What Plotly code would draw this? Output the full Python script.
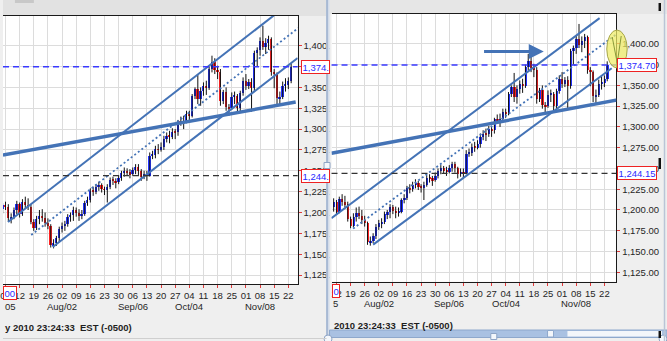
import pandas as pd
import plotly.graph_objects as go

# ---- daily gold bars, Jul 1 - Nov 23 2010 ----
dates = pd.bdate_range("2010-07-01", "2010-11-23")

opens = [1208, 1204, 1209, 1207, 1193, 1195, 1203, 1210, 1198, 1213,
         1209, 1207, 1189, 1181, 1192, 1196, 1193, 1188, 1184, 1161,
         1163, 1169, 1180, 1184, 1186, 1195, 1197, 1203, 1199, 1197,
         1198, 1212, 1215, 1226, 1225, 1230, 1233, 1228, 1227, 1230,
         1239, 1238, 1236, 1241, 1247, 1250, 1248, 1246, 1251, 1255,
         1250, 1243, 1246, 1244, 1268, 1269, 1276, 1275, 1279, 1288,
         1292, 1291, 1297, 1296, 1309, 1308, 1310, 1318, 1316, 1340,
         1348, 1336, 1346, 1352, 1349, 1372, 1380, 1371, 1369, 1334,
         1344, 1326, 1325, 1339, 1340, 1325, 1343, 1358, 1352, 1357,
         1349, 1391, 1395, 1406, 1399, 1403, 1408, 1369, 1366, 1337,
         1338, 1352, 1353, 1358]
highs = [1212, 1211, 1213, 1210, 1199, 1206, 1214, 1212, 1216, 1219,
         1217, 1210, 1192, 1196, 1203, 1204, 1200, 1193, 1186, 1168,
         1172, 1183, 1188, 1190, 1198, 1200, 1207, 1206, 1204, 1203,
         1214, 1219, 1229, 1231, 1234, 1237, 1235, 1231, 1234, 1242,
         1243, 1241, 1245, 1250, 1254, 1253, 1252, 1254, 1258, 1258,
         1252, 1250, 1250, 1272, 1274, 1280, 1282, 1284, 1292, 1296,
         1298, 1301, 1300, 1311, 1315, 1316, 1322, 1322, 1342, 1350,
         1365, 1350, 1356, 1358, 1375, 1388, 1385, 1376, 1372, 1347,
         1350, 1330, 1344, 1345, 1342, 1346, 1362, 1366, 1360, 1361,
         1394, 1398, 1410, 1424, 1409, 1412, 1410, 1372, 1368, 1345,
         1357, 1361, 1362, 1379]
lows = [1198, 1199, 1203, 1189, 1187, 1192, 1198, 1194, 1196, 1205,
        1203, 1186, 1178, 1179, 1186, 1189, 1183, 1180, 1158, 1157,
        1160, 1165, 1176, 1178, 1183, 1189, 1190, 1195, 1190, 1192,
        1196, 1208, 1212, 1220, 1222, 1226, 1224, 1221, 1212, 1228,
        1233, 1229, 1234, 1238, 1243, 1244, 1241, 1244, 1246, 1245,
        1238, 1240, 1238, 1243, 1264, 1265, 1270, 1273, 1275, 1284,
        1283, 1288, 1288, 1292, 1304, 1300, 1307, 1311, 1314, 1336,
        1330, 1328, 1340, 1341, 1347, 1368, 1366, 1360, 1328, 1330,
        1322, 1316, 1323, 1330, 1319, 1321, 1340, 1347, 1348, 1321,
        1346, 1375, 1388, 1395, 1390, 1395, 1364, 1349, 1330, 1329,
        1336, 1345, 1348, 1355]
closes = [1204, 1209, 1207, 1193, 1195, 1203, 1210, 1198, 1213, 1209,
          1207, 1189, 1181, 1192, 1196, 1193, 1188, 1184, 1161, 1163,
          1169, 1180, 1184, 1186, 1195, 1197, 1203, 1199, 1197, 1198,
          1212, 1215, 1226, 1225, 1230, 1233, 1228, 1227, 1230, 1239,
          1238, 1236, 1241, 1247, 1250, 1248, 1246, 1251, 1255, 1250,
          1243, 1246, 1244, 1268, 1269, 1276, 1275, 1279, 1288, 1292,
          1291, 1297, 1296, 1309, 1308, 1310, 1318, 1316, 1340, 1348,
          1336, 1346, 1352, 1349, 1372, 1380, 1371, 1369, 1334, 1344,
          1326, 1325, 1339, 1340, 1325, 1343, 1358, 1352, 1357, 1349,
          1391, 1395, 1406, 1399, 1403, 1408, 1369, 1366, 1337, 1338,
          1352, 1353, 1358, 1374.70]

last_price = 1374.70
ref_price = 1244.15
month_marks = {"2010-08-02": "Aug/02", "2010-09-06": "Sep/06",
               "2010-10-04": "Oct/04", "2010-11-08": "Nov/08"}
price_ticks = list(range(1125, 1401, 25))
stamp_left = "y 2010 23:24:33&nbsp;&nbsp;EST (-0500)"
stamp_right = "2010 23:24:33&nbsp;&nbsp;EST (-0500)"

# ---- drawn studies (trading-day index, price) ----
studies = {
    "left": {
        "support": ((1.1, 1269.0), (104.6, 1332.5)),
        "upper": ((2.9, 1188.6), (98.9, 1441.6)),
        "middle": ((11.1, 1173.0), (107.7, 1426.9)),
        "lower": ((18.7, 1158.6), (105.3, 1385.3)),
    },
    "right": {
        "support": ((5.2, 1268.3), (106.6, 1332.5)),
        "upper": ((5.2, 1190.1), (100.3, 1431.0)),
        "middle": ((12.9, 1177.5), (108.7, 1417.7)),
        "lower": ((20.0, 1158.2), (104.6, 1370.7)),
    },
}
arrow_tail = (58.8, 1390.7)
arrow_head = (80.5, 1390.7)

W, H = 667, 341
FONT = "Liberation Sans, Arial, sans-serif"
STUDY_BLUE = "#4473b6"
TXT = "#262626"


def px(x):
    return x / W


def py(y):
    return 1 - y / H


idx = list(range(len(dates)))
body_base = [min(o, c) for o, c in zip(opens, closes)]
body_h = [max(abs(c - o), 0.8) for o, c in zip(opens, closes)]
body_col = ["#2233ff" if c >= o else "#ff2222" for o, c in zip(opens, closes)]
wick_x, wick_y = [], []
for i, lo, hi in zip(idx, lows, highs):
    wick_x += [i, i, None]
    wick_y += [lo, hi, None]

mondays = [i for i, d in zip(idx, dates) if d.weekday() == 0]
day_text = [dates[i].strftime("%d") for i in mondays]
date_keys = [d.strftime("%Y-%m-%d") for d in dates]

fig = go.Figure()
for xa, ya in (("x", "y"), ("x2", "y2")):
    fig.add_trace(go.Scatter(x=wick_x, y=wick_y, mode="lines",
                             line=dict(color="#111111", width=1),
                             xaxis=xa, yaxis=ya, hoverinfo="skip", showlegend=False))
    fig.add_trace(go.Bar(x=idx, y=body_h, base=body_base, width=0.62,
                         marker=dict(color=body_col, line=dict(width=0)),
                         xaxis=xa, yaxis=ya, showlegend=False))

xcommon = dict(tickmode="array", tickvals=mondays, ticktext=day_text, tickangle=0,
               ticklabeloverflow="allow",
               showgrid=True, gridcolor="#dcdcdc", gridwidth=1, zeroline=False,
               showline=True, linecolor="#1a1a1a", linewidth=1, mirror=True,
               ticks="outside", ticklen=3, tickcolor="#e03a3a",
               tickfont=dict(family=FONT, size=9.5, color=TXT))
ycommon = dict(side="right", tickmode="array", tickvals=price_ticks,
               showgrid=True, gridcolor="#dcdcdc", gridwidth=1, zeroline=False,
               showline=True, linecolor="#1a1a1a", linewidth=1,
               ticks="outside", ticklen=3, tickcolor="#e03a3a",
               tickfont=dict(family=FONT, size=9.5, color=TXT))

fig.update_layout(
    width=W, height=H, margin=dict(l=0, r=0, t=0, b=0),
    paper_bgcolor="#efefef", plot_bgcolor="#ffffff", showlegend=False,
    bargap=0,
    xaxis=dict(xcommon, domain=[0, px(296)], range=[1.12, 105.3], anchor="y"),
    yaxis=dict(ycommon, domain=[py(284), py(16)], range=[1114.3, 1435.6], anchor="x",
               ticktext=[f"{v:,}." for v in price_ticks]),
    xaxis2=dict(xcommon, domain=[px(330), px(616)], range=[5.24, 106.2], anchor="y2"),
    yaxis2=dict(ycommon, domain=[py(281.7), py(14)], range=[1113.6, 1436.0], anchor="x2",
                ticktext=[f"{v:,.2f}" for v in price_ticks]),
)

shapes = []
# window chrome: top strips
shapes.append(dict(type="rect", xref="paper", yref="paper", x0=0, x1=px(325), y0=py(16), y1=1,
                   fillcolor="#e2e2e2", line_width=0, layer="below"))
shapes.append(dict(type="rect", xref="paper", yref="paper", x0=px(328), x1=1, y0=py(14), y1=1,
                   fillcolor="#e6e6e6", line_width=0, layer="below"))
shapes.append(dict(type="rect", xref="paper", yref="paper", x0=px(12), x1=px(31), y0=py(3), y1=1,
                   fillcolor="#c8c8c8", line_width=0, layer="below"))

for panel, xa, ya in (("left", "x", "y"), ("right", "x2", "y2")):
    s = studies[panel]
    shapes.append(dict(type="line", xref=xa, yref=ya, x0=s["support"][0][0], y0=s["support"][0][1],
                       x1=s["support"][1][0], y1=s["support"][1][1],
                       line=dict(color=STUDY_BLUE, width=3.5)))
    for key in ("upper", "lower"):
        shapes.append(dict(type="line", xref=xa, yref=ya, x0=s[key][0][0], y0=s[key][0][1],
                           x1=s[key][1][0], y1=s[key][1][1],
                           line=dict(color=STUDY_BLUE, width=2)))
    shapes.append(dict(type="line", xref=xa, yref=ya, x0=s["middle"][0][0], y0=s["middle"][0][1],
                       x1=s["middle"][1][0], y1=s["middle"][1][1],
                       line=dict(color=STUDY_BLUE, width=1.8, dash="2px,2.5px")))
    shapes.append(dict(type="line", xref=xa + " domain", yref=ya, x0=0, x1=1,
                       y0=last_price, y1=last_price,
                       line=dict(color="#3a3aff", width=1.5, dash="6px,4px")))
    shapes.append(dict(type="line", xref=xa + " domain", yref=ya, x0=0, x1=1,
                       y0=ref_price, y1=ref_price,
                       line=dict(color="#333333", width=1.2, dash="6px,4px")))

# highlight ellipse near the latest price
shapes.append(dict(type="circle", xref="paper", yref="paper", x0=px(606.5), x1=px(627),
                   y0=py(68), y1=py(30), fillcolor="rgba(238,236,100,0.72)",
                   line=dict(color="#a6a64a", width=1), layer="above"))
shapes.append(dict(type="line", xref="paper", yref="paper", x0=px(612), y0=py(37), x1=px(617), y1=py(63),
                   line=dict(color="#8a9a3a", width=1), layer="above"))
shapes.append(dict(type="line", xref="paper", yref="paper", x0=px(621), y0=py(36), x1=px(617), y1=py(63),
                   line=dict(color="#8a9a3a", width=1), layer="above"))

# pane separator and handles
shapes.append(dict(type="rect", xref="paper", yref="paper", x0=px(324.5), x1=px(328), y0=0, y1=1,
                   fillcolor="#d3dcea", line_width=0, layer="above"))
shapes.append(dict(type="line", xref="paper", yref="paper", x0=px(325.5), x1=px(325.5), y0=0, y1=1,
                   line=dict(color="#8fa5c6", width=1.2), layer="above"))
shapes.append(dict(type="rect", xref="paper", yref="paper", x0=px(322.5), x1=px(328.5), y0=py(168.5), y1=py(162.5),
                   fillcolor="#f4f7fb", line=dict(color="#8fa5c6", width=1), layer="above"))
# bottom scroll bar of the right pane
shapes.append(dict(type="rect", xref="paper", yref="paper", x0=px(328), x1=1, y0=py(337.5), y1=py(330),
                   fillcolor="#a9c1e2", line=dict(color="#8ea8cc", width=1), layer="above"))
shapes.append(dict(type="rect", xref="paper", yref="paper", x0=px(567), x1=px(662), y0=py(336.5), y1=py(331),
                   fillcolor="#f3f6fa", line_width=0, layer="above"))
shapes.append(dict(type="rect", xref="paper", yref="paper", x0=px(547), x1=px(553), y0=py(337), y1=py(330.5),
                   fillcolor="#f3f6fa", line=dict(color="#8ea8cc", width=1), layer="above"))
shapes.append(dict(type="rect", xref="paper", yref="paper", x0=px(490), x1=px(496), y0=py(339.5), y1=py(333.5),
                   fillcolor="#f4f7fb", line=dict(color="#8fa5c6", width=1), layer="above"))
for cx in (326.5, 663):
    shapes.append(dict(type="circle", xref="paper", yref="paper", x0=px(cx - 4), x1=px(cx + 4),
                       y0=py(343), y1=py(335), fillcolor="#f4f7fb",
                       line=dict(color="#8fa5c6", width=1), layer="above"))
shapes.append(dict(type="line", xref="paper", yref="paper", x0=px(664.5), x1=px(664.5), y0=0, y1=1,
                   line=dict(color="#b9c5d6", width=1.5), layer="above"))
for y0, y1 in ((3, 11), (158, 169), (331, 338)):
    shapes.append(dict(type="rect", xref="paper", yref="paper", x0=px(658.5), x1=px(661), y0=py(y1), y1=py(y0),
                       fillcolor="#111111", line_width=0, layer="above"))
shapes.append(dict(type="line", xref="paper", yref="paper", x0=0, x1=px(325), y0=py(338.5), y1=py(338.5),
                   line=dict(color="#cfcfcf", width=1), layer="above"))
fig.update_layout(shapes=shapes)

ann = []


def price_box(text, xpix, yref, value):
    return dict(text=text, xref="paper", yref=yref, x=px(xpix), y=value, xanchor="left",
                yanchor="middle", showarrow=False, bgcolor="#ffffff", bordercolor="#ee2222",
                borderwidth=1, borderpad=0.5, font=dict(family=FONT, size=9.5, color="#2a2aff"))


ann.append(price_box(f"{int(last_price):,}.", 299.5, "y", last_price))
ann.append(price_box(f"{int(ref_price):,}.", 299.5, "y", ref_price))
ann.append(price_box(f"{last_price:,.2f}", 617, "y2", last_price))
ann.append(price_box(f"{ref_price:,.2f}", 617, "y2", ref_price))

# month row under the weekly day numbers
for xa, ypix in (("x", 306), ("x2", 303.5)):
    for key, label in month_marks.items():
        ann.append(dict(text=label, xref=xa, yref="paper", x=date_keys.index(key), y=py(ypix),
                        xanchor="center", yanchor="middle", showarrow=False,
                        font=dict(family=FONT, size=9.5, color=TXT)))

for xpix, ypix, txt in ((0, 293, "00"), (330, 290.5, "0")):
    ann.append(dict(text=txt, xref="paper", yref="paper", x=px(xpix), y=py(ypix), xanchor="left",
                    yanchor="middle", showarrow=False, bgcolor="#ffffff", bordercolor="#ee2222",
                    borderwidth=1, borderpad=0.5, font=dict(family=FONT, size=9.5, color="#2a2aff")))
for xpix, ypix, txt in ((0, 306, "05"), (329.5, 303.5, "5")):
    ann.append(dict(text=txt, xref="paper", yref="paper", x=px(xpix), y=py(ypix), xanchor="left",
                    yanchor="middle", showarrow=False,
                    font=dict(family=FONT, size=9.5, color=TXT)))
for xpix, ypix, txt in ((0.5, 327, stamp_left), (330, 325, stamp_right)):
    ann.append(dict(text="<b>" + txt + "</b>", xref="paper", yref="paper", x=px(xpix), y=py(ypix),
                    xanchor="left", yanchor="middle", showarrow=False,
                    font=dict(family=FONT, size=9.5, color="#1e1e1e")))

ann.append(dict(text="", xref="x2", yref="y2", axref="x2", ayref="y2",
                x=arrow_head[0], y=arrow_head[1], ax=arrow_tail[0], ay=arrow_tail[1],
                showarrow=True, arrowhead=2, arrowsize=1, arrowwidth=3, arrowcolor=STUDY_BLUE))
fig.update_layout(annotations=ann)

fig.write_html("out.html")
